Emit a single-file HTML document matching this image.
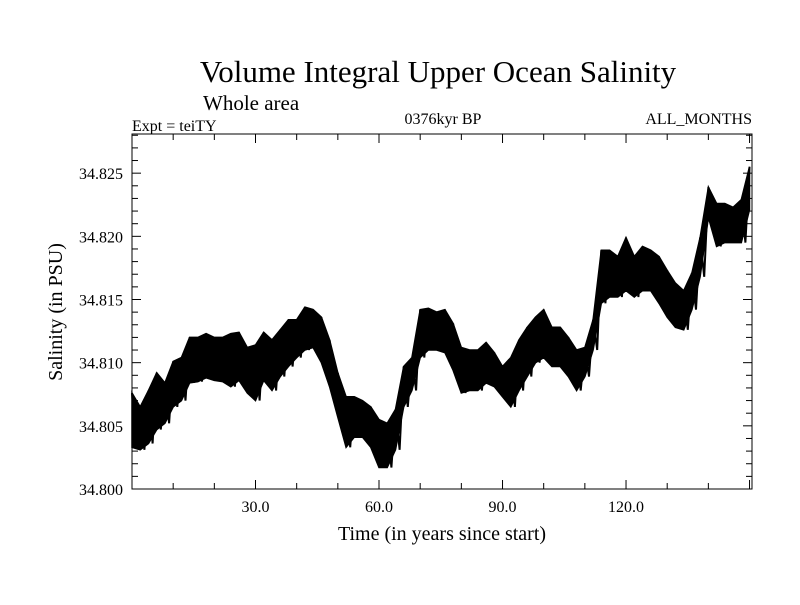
<!DOCTYPE html>
<html><head><meta charset="utf-8"><style>
body{margin:0;background:#fff;}
svg text{font-family:"Liberation Serif",serif;fill:#000;}
</style></head><body>
<svg id="chart" width="800" height="600" viewBox="0 0 800 600" xmlns="http://www.w3.org/2000/svg">
<rect width="800" height="600" fill="#fff"/>
<text x="438" y="82" font-size="31" text-anchor="middle">Volume Integral Upper Ocean Salinity</text>
<text x="203" y="110" font-size="21">Whole area</text>
<text x="132" y="131" font-size="16">Expt = teiTY</text>
<text x="443" y="124" font-size="16" text-anchor="middle">0376kyr BP</text>
<text x="752" y="124" font-size="16" text-anchor="end">ALL_MONTHS</text>
<text x="442" y="540" font-size="20" text-anchor="middle">Time (in years since start)</text>
<text x="0" y="0" font-size="20" text-anchor="middle" transform="translate(62,312) rotate(-90)">Salinity (in PSU)</text>
<g id="marks"></g>
<g id="axes"></g>
</svg>
<script>
const years=[0,2,4,6,8,10,12,14,16,18,20,22,24,26,28,30,32,34,36,38,40,42,44,46,48,50,52,54,56,58,60,62,64,66,68,70,72,74,76,78,80,82,84,86,88,90,92,94,96,98,100,102,104,106,108,110,112,114,116,118,120,122,124,126,128,130,132,134,136,138,140,142,144,146,148,150];
const hiVals=[34.8076,34.8065,34.8078,34.8092,34.8084,34.8101,34.8104,34.8120,34.8120,34.8123,34.8120,34.8120,34.8123,34.8124,34.8112,34.8114,34.8124,34.8118,34.8126,34.8134,34.8134,34.8144,34.8142,34.8136,34.8118,34.8092,34.8073,34.8073,34.8070,34.8065,34.8055,34.8052,34.8063,34.8097,34.8104,34.8142,34.8143,34.8140,34.8142,34.8131,34.8112,34.8110,34.8110,34.8116,34.8108,34.8097,34.8104,34.8118,34.8128,34.8136,34.8142,34.8128,34.8128,34.8120,34.8110,34.8112,34.8134,34.8189,34.8189,34.8184,34.8199,34.8184,34.8192,34.8189,34.8184,34.8173,34.8163,34.8157,34.8171,34.8199,34.8239,34.8226,34.8226,34.8223,34.8229,34.8255];
const loVals=[34.8033,34.8031,34.8036,34.8047,34.8052,34.8065,34.8070,34.8084,34.8085,34.8088,34.8086,34.8085,34.8081,34.8086,34.8076,34.8070,34.8086,34.8078,34.8089,34.8097,34.8104,34.8110,34.8112,34.8100,34.8081,34.8057,34.8033,34.8041,34.8041,34.8033,34.8017,34.8017,34.8031,34.8065,34.8078,34.8104,34.8110,34.8110,34.8108,34.8094,34.8076,34.8078,34.8078,34.8084,34.8081,34.8073,34.8065,34.8078,34.8089,34.8100,34.8104,34.8097,34.8097,34.8089,34.8078,34.8089,34.8110,34.8147,34.8152,34.8152,34.8157,34.8152,34.8157,34.8157,34.8147,34.8136,34.8128,34.8126,34.8142,34.8168,34.8215,34.8192,34.8195,34.8195,34.8195,34.8221];
const xTickVals=[30,60,90,120];
const xTickLabels=["30.0","60.0","90.0","120.0"];
const yTickVals=[34.800,34.805,34.810,34.815,34.820,34.825];
const yTickLabels=["34.800","34.805","34.810","34.815","34.820","34.825"];

const L=132,R=752,T=134,B=489;
const X0=0,X1=150.6,Y0=34.800,Y1=34.8281;
const xs=v=>L+(v-X0)/(X1-X0)*(R-L);
const ys=v=>B-(v-Y0)/(Y1-Y0)*(B-T);
const NS='http://www.w3.org/2000/svg';
const marks=document.getElementById('marks');
const axes=document.getElementById('axes');
function mk(tag,attrs,parent){const e=document.createElementNS(NS,tag);for(const k in attrs)e.setAttribute(k,attrs[k]);parent.appendChild(e);return e;}

// envelope band
let pts=[];
for(let i=0;i<years.length;i++)pts.push(xs(years[i]).toFixed(1)+','+ys(hiVals[i]).toFixed(1));
for(let i=years.length-1;i>=0;i--)pts.push(xs(years[i]).toFixed(1)+','+ys(loVals[i]).toFixed(1));
const band=mk('polygon',{points:pts.join(' '),fill:'#000',stroke:'#000','stroke-width':'1.5'},marks);


// zigzag texture
let z=[];
for(let i=0;i<years.length;i++){
  z.push(xs(years[i]).toFixed(1)+','+ys(hiVals[i]).toFixed(1));
  if(i<years.length-1)z.push(xs(years[i]+1).toFixed(1)+','+ys(loVals[i]).toFixed(1));
}
const line=mk('polyline',{points:z.join(' '),fill:'none',stroke:'#000','stroke-width':'2'},marks);



// frame
const frame=mk('rect',{x:L,y:T,width:R-L,height:B-T,fill:'none',stroke:'#000','stroke-width':'1'},axes);


// x ticks
for(let v=10;v<X1;v+=10){
  const major=(v%30===0);const len=major?9:6;const x=xs(v);
  mk('line',{x1:x,y1:B,x2:x,y2:B-len,stroke:'#000','stroke-width':1},axes);
  mk('line',{x1:x,y1:T,x2:x,y2:T+len,stroke:'#000','stroke-width':1},axes);
}
xTickVals.forEach((v,i)=>{
  const t=mk('text',{x:xs(v),y:512,'font-size':16,'text-anchor':'middle'},axes);
  t.textContent=xTickLabels[i];
  
  
});
// y ticks
for(let k=1;k<=28;k++){
  const v=Y0+k*0.001;const major=(k%5===0);const len=major?9:6;const y=ys(v);
  mk('line',{x1:L,y1:y,x2:L+len,y2:y,stroke:'#000','stroke-width':1},axes);
  mk('line',{x1:R,y1:y,x2:R-len,y2:y,stroke:'#000','stroke-width':1},axes);
}
yTickVals.forEach((v,i)=>{
  const t=mk('text',{x:123,y:ys(v)+6,'font-size':16,'text-anchor':'end'},axes);
  t.textContent=yTickLabels[i];
  
  
});
</script>
</body></html>
